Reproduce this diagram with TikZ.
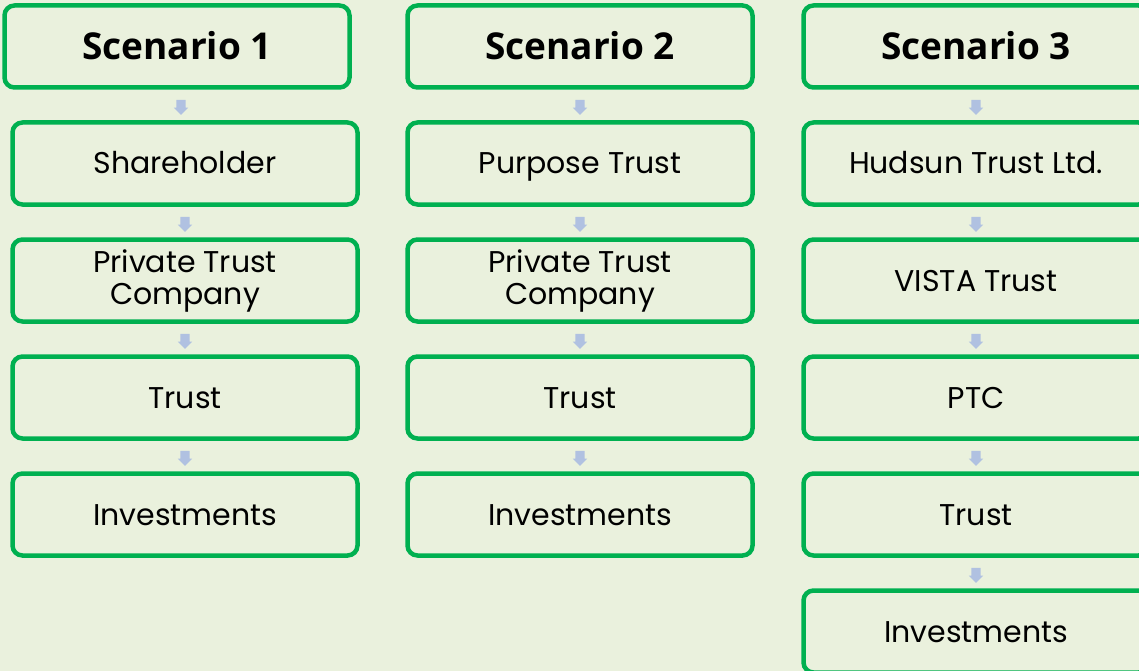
\documentclass[tikz,border=0pt]{standalone}
\usepackage{fontspec}
\setmainfont{Poppins}
\newfontfamily\headfont{Open Sans}
\usetikzlibrary{positioning,shapes.arrows}

\definecolor{bgpaper}{RGB}{234,241,221}
\definecolor{boxgreen}{RGB}{0,176,80}
\definecolor{arrowblue}{RGB}{176,193,225}

\tikzset{
  stage/.style={draw=boxgreen, line width=4.5pt, rounded corners=10pt,
    minimum width=345pt, minimum height=82pt, outer sep=0pt,
    text height=27pt, text depth=6pt,
    font=\fontsize{30}{32}\selectfont},
  twoline/.style={stage, align=center, text height=, text depth=},
  title/.style={stage, text height=32pt, text depth=5.6pt,
    font=\headfont\bfseries\fontsize{37}{40}\selectfont},
  downarrow/.style={single arrow, fill=arrowblue, draw=none, inner sep=4.5pt,
    shape border rotate=270, minimum height=15pt,
    single arrow head extend=2.5pt}
}

\begin{document}
\begin{tikzpicture}[x=1pt, y=-1pt, node distance=35pt]
  \fill[bgpaper] (0,0) rectangle (1139,671);
  \useasboundingbox (0,0) rectangle (1139,671);

  % headers
  \node[title] (h1) at (177,46.5) {Scenario 1};
  \node[title] (h2) at (580,46.5) {Scenario 2};
  \node[title] (h3) at (976,46.5) {Scenario 3};

  % scenario 1
  \node[stage, below=of h1, xshift=8pt] (a1) {Shareholder};
  \node[twoline, below=of a1] (b1) {Private Trust\\Company};
  \node[stage, below=of b1] (c1) {Trust};
  \node[stage, below=of c1] (d1) {Investments};

  % scenario 2
  \node[stage, below=of h2] (a2) {Purpose Trust};
  \node[twoline, below=of a2] (b2) {Private Trust\\Company};
  \node[stage, below=of b2] (c2) {Trust};
  \node[stage, below=of c2] (d2) {Investments};

  % scenario 3
  \node[stage, below=of h3] (a3) {Hudsun Trust Ltd.};
  \node[stage, below=of a3] (b3) {VISTA Trust};
  \node[stage, below=of b3] (c3) {PTC};
  \node[stage, below=of c3] (d3) {Trust};
  \node[stage, below=of d3] (e3) {Investments};

  % small arrows between the boxes
  \foreach \from/\to in {h1/a1, a1/b1, b1/c1, c1/d1,
                         h2/a2, a2/b2, b2/c2, c2/d2,
                         h3/a3, a3/b3, b3/c3, c3/d3, d3/e3}
    \path (\from) -- (\to) node[midway, downarrow] {};
\end{tikzpicture}
\end{document}
